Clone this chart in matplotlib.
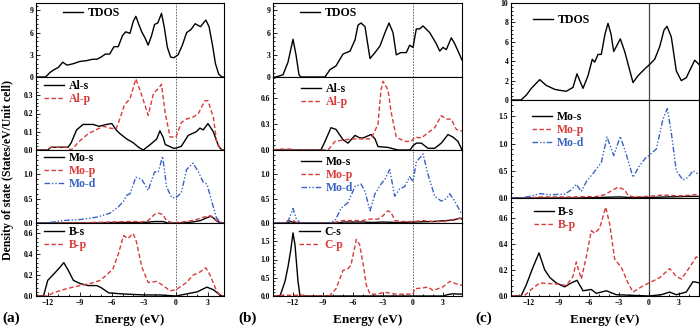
import matplotlib.pyplot as plt
from matplotlib.ticker import AutoMinorLocator, FormatStrFormatter

plt.rcParams['font.family'] = ['Liberation Serif', 'DejaVu Serif']
plt.rcParams['font.weight'] = 'bold'

RED = '#d93a3a'
BLUE = '#3a64c2'

energy_ticks = [-12, -9, -6, -3, 0, 3]

# ---------- (a) ----------
a_tdos = [(-13.1, 0), (-12.2, 0), (-11.8, 0.6), (-11.4, 1.0), (-11, 1.3), (-10.6, 2.0), (-10.2, 1.6),
          (-9.6, 1.8), (-9, 2.1), (-8.4, 2.2), (-7.8, 2.4), (-7.4, 2.4), (-7, 2.7), (-6.6, 3.1),
          (-6.2, 3.1), (-5.8, 4.1), (-5.4, 4.1), (-5, 5.6), (-4.7, 6.1), (-4.3, 5.9), (-4, 7.5),
          (-3.75, 8.2), (-3.5, 7.2), (-3.2, 6.1), (-2.9, 5.3), (-2.6, 4.3), (-2.3, 5.5), (-2.0, 7.1),
          (-1.7, 7.3), (-1.35, 8.6), (-1.1, 6.8), (-0.8, 4.0), (-0.5, 2.7), (-0.2, 2.6), (0.2, 3.0),
          (0.6, 4.3), (1.0, 6.0), (1.4, 6.4), (1.8, 7.2), (2.3, 6.8), (2.8, 7.7), (3.1, 6.8),
          (3.4, 4.5), (3.7, 1.8), (4.0, 0.4), (4.3, 0), (4.5, 0)]
a_al_s = [(-13.1, 0), (-12, 0), (-11.7, 0.015), (-10.1, 0.015), (-9.8, 0.04), (-9.3, 0.11), (-8.7, 0.14),
          (-7.75, 0.14), (-7.2, 0.13), (-6.5, 0.14), (-6, 0.145), (-5.6, 0.11), (-5.25, 0.09),
          (-4.6, 0.06), (-4, 0.04), (-3.5, 0.015), (-3.06, 0.0), (-2.4, 0.03), (-1.8, 0.06),
          (-1.5, 0.105), (-1.2, 0.07), (-1, 0.03), (-0.25, 0.01), (0, 0.01), (0.5, 0.02), (1.15, 0.08),
          (1.9, 0.1), (2.25, 0.12), (2.56, 0.11), (3, 0.145), (3.5, 0.1), (4, 0.02), (4.3, 0), (4.5, 0)]
a_al_p = [(-13.1, 0), (-12, 0), (-11.7, 0.015), (-10.2, 0.015), (-9.8, 0.0), (-9, 0.05), (-8.2, 0.09),
          (-7.5, 0.11), (-6.8, 0.13), (-6.2, 0.12), (-5.6, 0.115), (-5.2, 0.18), (-4.8, 0.25),
          (-4.3, 0.28), (-3.75, 0.39), (-3.2, 0.3), (-2.6, 0.19), (-2.1, 0.31), (-1.6, 0.34),
          (-1.35, 0.36), (-1, 0.2), (-0.55, 0.072), (0, 0.07), (0.5, 0.15), (1, 0.17), (1.6, 0.18),
          (2.1, 0.2), (2.7, 0.27), (3, 0.27), (3.5, 0.18), (3.8, 0.05), (4.2, 0), (4.5, 0)]
a_mo_s = [(-13.1, 0), (-7, 0), (-6, 0.01), (-3, 0.01), (-2, 0.03), (-1.2, 0.03), (-0.8, 0), (0.5, 0),
          (1.5, 0.02), (2.3, 0.05), (2.8, 0.1), (3.3, 0.14), (3.8, 0.05), (4.2, 0), (4.5, 0)]
a_mo_p = [(-13.1, 0), (-9, 0), (-8, 0.01), (-6, 0.02), (-4.5, 0.03), (-3.7, 0.03), (-3.2, 0.02),
          (-2.6, 0.05), (-2, 0.18), (-1.56, 0.2), (-1.2, 0.17), (-0.9, 0.05), (-0.4, 0.01), (0, 0.01),
          (1, 0.03), (1.9, 0.07), (2.6, 0.12), (3.2, 0.15), (3.6, 0.08), (4.0, 0), (4.5, 0)]
a_mo_d = [(-13.1, 0), (-12.2, 0), (-11.5, 0.02), (-10.6, 0.05), (-9, 0.07), (-7.4, 0.12), (-6.2, 0.2),
          (-5.4, 0.33), (-4.9, 0.45), (-4.6, 0.57), (-4.3, 0.6), (-3.75, 0.94), (-3.2, 0.9),
          (-2.6, 0.67), (-2, 1.05), (-1.65, 1.05), (-1.25, 1.37), (-0.87, 0.74), (-0.4, 0.52),
          (0, 0.52), (0.5, 0.62), (1, 1.1), (1.6, 1.23), (2.1, 1.05), (2.55, 0.84), (2.9, 0.8),
          (3.35, 0.45), (3.8, 0.1), (4.3, 0), (4.5, 0)]
a_b_s = [(-13.1, 0), (-12.4, 0), (-12, 0.15), (-11.35, 0.22), (-10.9, 0.27), (-10.5, 0.32),
         (-10.1, 0.25), (-9.6, 0.15), (-9, 0.12), (-8.2, 0.1), (-7.4, 0.1), (-7, 0.08), (-6.3, 0.03),
         (-5, 0.02), (-3, 0.01), (-1.5, 0.01), (0, 0), (1, 0.02), (2, 0.04), (2.9, 0.085),
         (3.5, 0.06), (4, 0.02), (4.3, 0), (4.5, 0)]
a_b_p = [(-13.1, 0), (-12, 0), (-11.5, 0.03), (-10.25, 0.07), (-9, 0.1), (-8, 0.12), (-7.1, 0.15),
         (-6.5, 0.2), (-5.9, 0.26), (-5.4, 0.4), (-4.9, 0.58), (-4.5, 0.55), (-4, 0.6), (-3.7, 0.52),
         (-3.2, 0.28), (-2.6, 0.13), (-1.8, 0.14), (-1.2, 0.1), (-0.55, 0.05), (0, 0.06), (1, 0.13),
         (1.6, 0.2), (2.25, 0.23), (2.8, 0.27), (3.2, 0.2), (3.8, 0.05), (4.2, 0), (4.5, 0)]

# ---------- (b) ----------
b_tdos = [(-14, 0), (-13.7, 0), (-13, 0.3), (-12.5, 2.0), (-12, 5.1), (-11.7, 3.0), (-11.4, 0.3),
          (-11.2, 0), (-8.8, 0), (-8.3, 1.0), (-7.7, 1.5), (-7, 3.1), (-6.3, 3.5), (-5.8, 5.0),
          (-5.5, 7.0), (-5.2, 7.3), (-4.8, 6.8), (-4.3, 2.5), (-3.8, 3.3), (-3.3, 4.2), (-2.8, 6.0),
          (-2.4, 7.3), (-2, 6.0), (-1.67, 3.0), (-1.2, 3.3), (-0.67, 3.3), (-0.33, 4.3), (0, 4.0),
          (0.33, 6.5), (0.67, 6.5), (1, 6.9), (1.67, 6.0), (2.33, 4.5), (2.67, 3.5), (3, 4.0),
          (3.33, 3.7), (3.83, 5.3), (4.17, 4.5), (4.67, 3.0), (4.9, 2.3)]
b_al_s = [(-14, 0), (-9.2, 0), (-8.8, 0.1), (-8.2, 0.26), (-7.7, 0.24), (-7, 0.12), (-6.5, 0.08),
          (-5.8, 0.17), (-5.3, 0.14), (-5, 0.14), (-4.2, 0.18), (-3.8, 0.13), (-3.5, 0.04),
          (-2.5, 0.03), (-1.5, 0), (-0.3, 0), (0, 0.05), (0.33, 0.08), (0.83, 0.08), (1.5, 0.02),
          (2.17, 0.02), (2.83, 0.08), (3.5, 0.18), (4, 0.15), (4.5, 0.1), (4.9, 0.0)]
b_al_p = [(-14, 0), (-13.5, 0.01), (-12.2, 0.01), (-11.8, 0), (-8.5, 0), (-7.8, 0.1), (-6.8, 0.12),
          (-5.8, 0.13), (-4.8, 0.13), (-4.2, 0.13), (-3.5, 0.3), (-3.2, 0.7), (-3, 0.8), (-2.5, 0.7),
          (-2.2, 0.45), (-1.67, 0.15), (-0.83, 0.1), (-0.17, 0.1), (0.17, 0.15), (0.83, 0.14),
          (1.5, 0.2), (2.17, 0.26), (2.83, 0.4), (3.33, 0.36), (3.83, 0.36), (4.33, 0.24), (4.9, 0.22)]
b_mo_s = [(-14, 0), (-12.6, 0), (-12.2, 0.03), (-11.8, 0), (-7.5, 0), (-7, 0.02), (-5, 0.02),
          (-4, 0.01), (-3, 0.02), (-1.5, 0.01), (0, 0.02), (2, 0.03), (4, 0.06), (4.7, 0.1), (4.9, 0.08)]
b_mo_p = [(-14, 0), (-12.8, 0), (-12.5, 0.05), (-12, 0.05), (-11.5, 0), (-8, 0), (-7.5, 0.03),
          (-7, 0.05), (-5, 0.05), (-4.5, 0.08), (-3.5, 0.08), (-3, 0.15), (-2.5, 0.25), (-2.2, 0.22),
          (-1.8, 0.05), (-1, 0.03), (0, 0.03), (1, 0.05), (2, 0.03), (3, 0.03), (4, 0.07), (4.9, 0.1)]
b_mo_d = [(-14, 0), (-12.8, 0), (-12.5, 0.03), (-12, 0.3), (-11.7, 0.1), (-11.3, 0), (-8.5, 0),
          (-7.8, 0.05), (-7.2, 0.3), (-6.5, 0.42), (-5.8, 0.75), (-5.2, 0.8), (-4.8, 0.65),
          (-4.3, 0.25), (-3.8, 0.6), (-3.2, 0.8), (-2.8, 0.9), (-2.33, 1.1), (-1.83, 0.55),
          (-1.33, 0.7), (-0.83, 0.75), (-0.33, 0.95), (0, 0.85), (0.33, 1.25), (1.0, 1.42),
          (1.5, 1.0), (2.17, 0.55), (2.83, 0.45), (3.33, 0.5), (3.67, 0.6), (4.17, 0.45), (4.83, 0.2)]
b_c_s = [(-14, 0), (-13.3, 0), (-12.8, 0.4), (-12.5, 0.8), (-12.2, 1.3), (-12, 1.73), (-11.8, 1.4),
         (-11.5, 0.4), (-11.3, 0), (3, 0), (3.5, 0.04), (4, 0.06), (4.9, 0.05)]
b_c_p = [(-14, 0), (-13, 0.02), (-11, 0.02), (-10.6, 0), (-8.5, 0), (-8.3, 0.02), (-7.7, 0.2),
         (-7, 0.7), (-6.5, 0.75), (-6.2, 0.85), (-5.67, 1.55), (-5.33, 1.4), (-5, 0.9), (-4.67, 0.3),
         (-4.3, 0.05), (-3.67, 0.05), (-2.83, 0.1), (-2.33, 0.08), (-1.67, 0.05), (-0.33, 0.05),
         (0, 0.05), (0.17, 0.2), (1, 0.22), (1.5, 0.25), (2, 0.15), (3, 0.25), (3.67, 0.4),
         (4.17, 0.35), (4.67, 0.3), (4.9, 0.3)]

# ---------- (c) ----------
c_tdos = [(-13.8, 0), (-12.8, 0), (-12.27, 0.5), (-11.77, 1.2), (-10.93, 2.1), (-10.27, 1.5),
          (-9.43, 1.1), (-8.93, 1.0), (-8.27, 0.9), (-7.6, 1.3), (-7.2, 2.7), (-6.6, 1.2), (-6.1, 2.5),
          (-5.67, 4.2), (-5.43, 3.9), (-5.1, 4.7), (-4.77, 4.7), (-4.4, 6.8), (-4.1, 7.9), (-3.8, 6.8),
          (-3.53, 5.0), (-2.87, 6.3), (-2.43, 5.0), (-1.6, 1.8), (-1.1, 2.5), (-0.43, 3.2), (0, 3.6),
          (0.57, 4.2), (1.07, 5.5), (1.5, 7.2), (1.8, 7.6), (2.23, 6.5), (2.73, 3.0), (3.23, 2.0),
          (3.73, 2.3), (4.57, 4.1), (5.07, 3.6)]
c_mo_s = [(-13.8, 0), (-7, 0), (-5, 0.01), (-3, 0.02), (-2, 0.01), (0, 0.01), (2, 0.02), (4, 0.03),
          (5.07, 0.03)]
c_mo_p = [(-13.8, 0), (-12, 0), (-11, 0.02), (-7, 0.02), (-6.3, 0.03), (-5.5, 0.02), (-4.43, 0.06),
          (-3.77, 0.13), (-3.1, 0.2), (-2.43, 0.15), (-2.1, 0.05), (-1.6, 0.02), (0, 0.03), (1, 0.05),
          (2, 0.05), (3, 0.04), (4, 0.05), (5.07, 0.07)]
c_mo_d = [(-13.8, 0), (-12.9, 0), (-11.93, 0.03), (-10.93, 0.08), (-9.93, 0.06), (-8.43, 0.07),
          (-7.77, 0.15), (-7.27, 0.25), (-6.77, 0.12), (-6.27, 0.3), (-5.6, 0.45), (-4.77, 0.65),
          (-4.2, 1.12), (-3.53, 0.78), (-2.87, 1.13), (-2.27, 0.8), (-1.6, 0.38), (-0.93, 0.6),
          (-0.27, 0.75), (0, 0.78), (0.73, 0.9), (1.4, 1.45), (1.83, 1.64), (2.23, 1.2), (2.73, 0.5),
          (3.4, 0.33), (3.9, 0.38), (4.4, 0.5), (5.07, 0.42)]
c_b_s = [(-13.8, 0), (-12.8, 0), (-12.3, 0.08), (-11.6, 0.22), (-11, 0.33), (-10.43, 0.2),
         (-9.9, 0.14), (-9.27, 0.1), (-8.43, 0.07), (-7.77, 0.1), (-7.2, 0.12), (-6.6, 0.04),
         (-5.77, 0.05), (-5.27, 0.02), (-4.27, 0.04), (-3.27, 0.01), (0, 0.0), (1.23, 0.01),
         (2.07, 0.03), (2.73, 0.01), (3.73, 0.03), (4.4, 0.11), (5.07, 0.1)]
c_b_p = [(-13.8, 0), (-12.5, 0), (-11.77, 0.05), (-10.93, 0.1), (-8.93, 0.09), (-8.27, 0.08),
         (-7.6, 0.15), (-7.27, 0.26), (-6.77, 0.13), (-6.27, 0.3), (-5.77, 0.5), (-5.43, 0.48),
         (-4.93, 0.52), (-4.33, 0.68), (-3.93, 0.55), (-3.43, 0.28), (-2.77, 0.22), (-2.1, 0.1),
         (-1.6, 0.03), (-0.77, 0.07), (0, 0.1), (1.07, 0.14), (2.07, 0.21), (2.73, 0.15),
         (3.23, 0.13), (4.07, 0.22), (4.73, 0.3), (5.07, 0.28)]

SOLID = dict(color='black', ls='-')
DASH = dict(color=RED, dashes=(3.2, 1.8))
DDOT = dict(color=BLUE, dashes=(4, 1.4, 1, 1.4, 1, 1.4))

# rows: (y span px, ylim, yticks, format, legend x (axes frac), legend top gap px, curves)
columns = [
    dict(x=(36, 224), xlim=(-13.1, 4.5), fermi=dict(color='#555555', ls=(0, (2, 1.5)), lw=0.6),
         tag=(11, '(a)'), rows=[
            ((3, 77), (0, 10), [0, 3, 6, 9], '%d', 0.145, 4,
             [('TDOS', a_tdos, SOLID)]),
            ((77, 150), (0, 0.4), [0, 0.1, 0.2, 0.3], '%.1f', 0.043, 3,
             [('Al-s', a_al_s, SOLID), ('Al-p', a_al_p, DASH)]),
            ((150, 223), (0, 1.5), [0, 0.5, 1.0], '%.1f', 0.043, 2,
             [('Mo-s', a_mo_s, SOLID), ('Mo-p', a_mo_p, DASH), ('Mo-d', a_mo_d, DDOT)]),
            ((223, 296), (0, 0.7), [0, 0.2, 0.4, 0.6], '%.1f', 0.043, 3,
             [('B-s', a_b_s, SOLID), ('B-p', a_b_p, DASH)]),
         ]),
    dict(x=(273, 462), xlim=(-14, 4.9), fermi=dict(color='#555555', ls=(0, (2, 1.5)), lw=0.6),
         tag=(248, '(b)'), rows=[
            ((3, 77), (0, 10), [0, 3, 6, 9], '%d', 0.145, 4,
             [('TDOS', b_tdos, SOLID)]),
            ((77, 150), (0, 0.85), [0, 0.3, 0.6], '%.1f', 0.15, 6,
             [('Al-s', b_al_s, SOLID), ('Al-p', b_al_p, DASH)]),
            ((150, 223), (0, 1.5), [0, 0.5, 1.0], '%.1f', 0.15, 6,
             [('Mo-s', b_mo_s, SOLID), ('Mo-p', b_mo_p, DASH), ('Mo-d', b_mo_d, DDOT)]),
            ((223, 296), (0, 2.0), [0, 0.5, 1.0, 1.5], '%.1f', 0.14, 3,
             [('C-s', b_c_s, SOLID), ('C-p', b_c_p, DASH)]),
         ]),
    dict(x=(511, 699), xlim=(-13.8, 5.0), fermi=dict(color='#444444', ls='-', lw=0.9),
         tag=(484, '(c)'), rows=[
            ((3, 100), (0, 10), [0, 2, 4, 6, 8, 10], '%d', 0.115, 11,
             [('TDOS', c_tdos, SOLID)]),
            ((100, 198), (0, 1.8), [0, 0.5, 1.0, 1.5], '%.1f', 0.11, 11,
             [('Mo-s', c_mo_s, SOLID), ('Mo-p', c_mo_p, DASH), ('Mo-d', c_mo_d, DDOT)]),
            ((198, 296), (0, 0.75), [0, 0.2, 0.4, 0.6], '%.1f', 0.12, 8,
             [('B-s', c_b_s, SOLID), ('B-p', c_b_p, DASH)]),
         ]),
]

W, H = 700, 329
fig = plt.figure(figsize=(W / 100, H / 100), dpi=100)

for col in columns:
    x0, x1 = col['x']
    nrows = len(col['rows'])
    for i, (yy, ylim, yticks, fmt, legx, gap, curves) in enumerate(col['rows']):
        y0, y1 = yy
        ax = fig.add_axes([x0 / W, 1 - y1 / H, (x1 - x0) / W, (y1 - y0) / H])
        for label, pts, style in curves:
            e, v = zip(*pts)
            ax.plot(e, v, lw=1.0, label=label, **style)
        ax.axvline(0, zorder=0, **col['fermi'])
        ax.set_xlim(*col['xlim'])
        ax.set_ylim(*ylim)
        ax.set_yticks(yticks)
        ax.yaxis.set_major_formatter(FormatStrFormatter(fmt))
        ax.yaxis.set_minor_locator(AutoMinorLocator(5))
        ax.set_xticks(energy_ticks)
        ax.xaxis.set_minor_locator(AutoMinorLocator(3))
        ax.tick_params(which='both', direction='in', labelsize=5.5, width=0.6, pad=2,
                       right=False, top=False)
        ax.tick_params(which='major', length=3)
        ax.tick_params(which='minor', length=1.6)
        if i < nrows - 1:
            ax.tick_params(axis='x', which='both', bottom=False, labelbottom=False)
        for s in ax.spines.values():
            s.set_linewidth(0.8)
        ax.legend(loc='upper left', bbox_to_anchor=(legx, 1 - gap / (y1 - y0)),
                  frameon=False, fontsize=8.5, handlelength=1.7, handletextpad=0.4,
                  labelspacing=0.08, borderpad=0, borderaxespad=0, labelcolor='linecolor')
    fig.text((x0 + x1) / 2 / W, 1 - 320 / H, 'Energy (eV)', ha='center', va='center', fontsize=9.5)
    tx, tag = col['tag']
    fig.text(tx / W, 1 - 318 / H, tag, ha='center', va='center', fontsize=11)

fig.text(8 / W, 1 - 170 / H, 'Density of state (States/eV/Unit cell)', rotation=90,
         ha='center', va='center', fontsize=8.5)

fig.savefig('out.png', dpi=100)
